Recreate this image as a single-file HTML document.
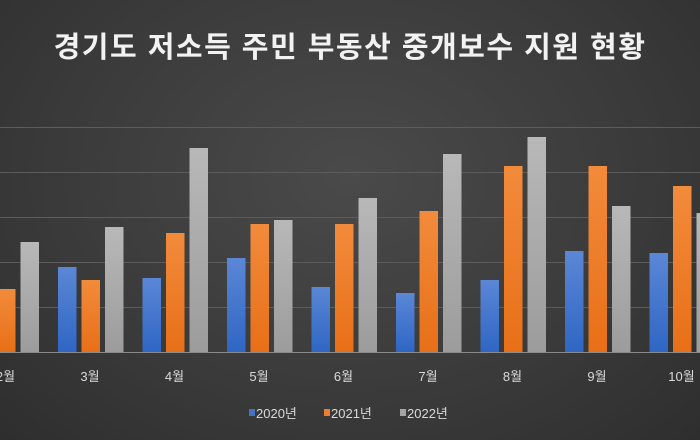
<!DOCTYPE html>
<html><head><meta charset="utf-8"><style>
body{margin:0;width:700px;height:440px;overflow:hidden;background:radial-gradient(ellipse at 50% 40%,#4a4a4a 0%,#3a3a3a 60%,#2e2e2e 100%);font-family:"Liberation Sans","Noto Sans CJK KR",sans-serif;}
</style></head><body>
<svg width="700" height="440" xmlns="http://www.w3.org/2000/svg" style="position:absolute;left:0;top:0">
<defs>
<linearGradient id="b" x1="0" y1="0" x2="0" y2="1"><stop offset="0" stop-color="#5b87d6"/><stop offset="1" stop-color="#2f66c4"/></linearGradient>
<linearGradient id="o" x1="0" y1="0" x2="0" y2="1"><stop offset="0" stop-color="#f28b3c"/><stop offset="1" stop-color="#e86f17"/></linearGradient>
<linearGradient id="g" x1="0" y1="0" x2="0" y2="1"><stop offset="0" stop-color="#b8b8b8"/><stop offset="1" stop-color="#9c9c9c"/></linearGradient>
</defs>
<text x="350" y="57" fill="#f2f2f2" font-size="29" font-weight="bold" letter-spacing="1.5" text-anchor="middle" font-family="Liberation Sans,Noto Sans CJK KR,sans-serif">경기도 저소득 주민 부동산 중개보수 지원 현황</text>
<g stroke="#5c5c5c" stroke-width="1">
<line x1="0" x2="700" y1="127.5" y2="127.5"/><line x1="0" x2="700" y1="172.5" y2="172.5"/><line x1="0" x2="700" y1="217.5" y2="217.5"/><line x1="0" x2="700" y1="262.5" y2="262.5"/><line x1="0" x2="700" y1="307.5" y2="307.5"/>
</g>
<g id="bars"></g>
<line x1="0" x2="700" y1="352.5" y2="352.5" stroke="#8a8a8a"/>
<g fill="#d9d9d9" font-size="13" text-anchor="middle" id="lbl"></g>
<g font-size="13" fill="#d9d9d9">
<rect x="249" y="409" width="6" height="7" fill="#4472c4"/><text x="256" y="418">2020년</text>
<rect x="324" y="409" width="6" height="7" fill="#ed7d31"/><text x="331" y="418">2021년</text>
<rect x="400" y="409" width="6" height="7" fill="#a5a5a5"/><text x="407" y="418">2022년</text>
</g>
</svg>
<script>
var d=[[2,330,289,242],[3,267,280,227],[4,278,233,148],[5,258,224,220],[6,287,224,198],[7,293,211,154],[8,280,166,137],[9,251,166,206],[10,253,186,213]];
var s='',l='';
d.forEach(function(r){var x=58+(r[0]-3)*84.5;var f=['url(#b)','url(#o)','url(#g)'];
for(var i=0;i<3;i++){s+='<rect x="'+(x+i*23.5)+'" y="'+r[i+1]+'" width="18.5" height="'+(352-r[i+1])+'" fill="'+f[i]+'"/>';}
l+='<text x="'+(x+32)+'" y="381">'+r[0]+'월</text>';});
document.getElementById('bars').innerHTML=s;document.getElementById('lbl').innerHTML=l;
</script>
</body></html>
